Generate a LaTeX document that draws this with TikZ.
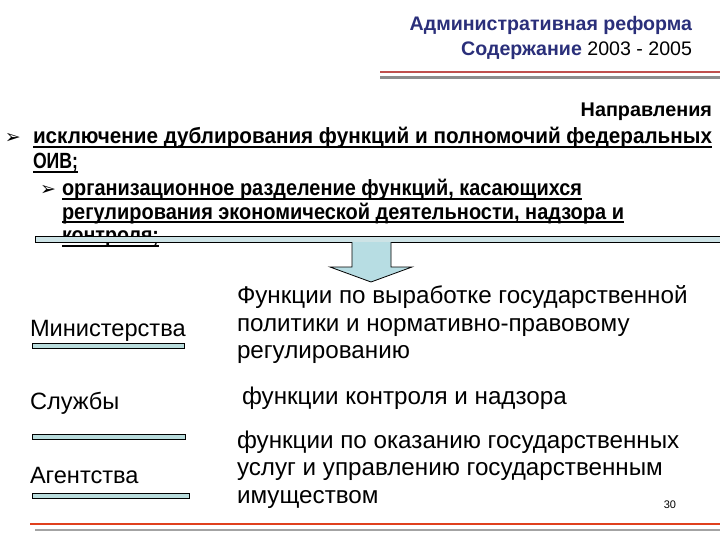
\documentclass[tikz,border=0pt]{standalone}
\usepackage{fontspec}
\setmainfont{Liberation Sans}
\newfontfamily\symfont{DejaVu Sans}
\usepackage{graphicx}
\definecolor{navy}{RGB}{42,47,122}
\definecolor{topred}{RGB}{192,80,77}
\definecolor{linegray}{RGB}{140,140,140}
\definecolor{barfill}{RGB}{205,227,230}
\definecolor{arrowfill}{RGB}{183,221,227}
\definecolor{smallbar}{RGB}{185,220,220}
\definecolor{botred}{RGB}{224,64,30}
\newcommand\fitw[2]{\resizebox{#1}{\height}{#2}}
\newcommand\bfz{\fontsize{22}{22}\selectfont\bfseries}
\newcommand\rgz{\fontsize{24.2}{25}\selectfont}
\newcommand\catz{\fontsize{23.6}{24}\selectfont}
\newcommand\ttz{\fontsize{19.6}{20}\selectfont}
\begin{document}
\begin{tikzpicture}[x=1pt,y=-1pt,
  txt/.style={inner sep=0pt,outer sep=0pt},
  ul/.style={line width=1.6pt},
  bullet/.style={txt,anchor=base west,font=\symfont\fontsize{19}{19}\selectfont},
  smallbarstyle/.style={fill=smallbar,draw=black,line width=0.8pt}]
\useasboundingbox (0,0) rectangle (720,540);
\fill[white] (0,0) rectangle (720,540);
% title
\node[txt,anchor=base east,text=navy] (t1) at (692,31) {\ttz\bfseries Административная реформа};
\node[txt,anchor=base east] (t2) at (692,56) {\ttz\textcolor{navy}{\bfseries Содержание} 2003 - 2005};
\draw[topred,line width=2.4pt] (380,72) -- (720,72);
\draw[linegray,line width=2.2pt] (380,77.5) -- (720,77.5);
% directions
\node[txt,anchor=base east] (dir) at (712,117) {\fontsize{19.8}{20}\selectfont\bfseries Направления};
\node[bullet] (b1) at (5,144) {➢};
\node[txt,anchor=base west] (l1) at (33,144) {\fitw{679pt}{\bfz исключение дублирования функций и полномочий федеральных}};
\node[txt,anchor=base west] (l2) at (33,169) {\fitw{45pt}{\bfz ОИВ;}};
\node[bullet] (b2) at (40,196) {➢};
\node[txt,anchor=base west] (l3) at (62,196) {\fitw{520pt}{\bfz организационное разделение функций, касающихся}};
\node[txt,anchor=base west] (l4) at (62,219) {\fitw{562pt}{\bfz регулирования экономической деятельности, надзора и}};
\node[txt,anchor=base west] (l5) at (62,243) {\fitw{97pt}{\bfz контроля;}};
\foreach \n in {l1,l2,l3,l4,l5}
  \draw[ul] ([yshift=-3pt]\n.base west) -- ([yshift=-3pt]\n.base east);
% bar and arrow
\draw[fill=barfill,draw=black,line width=1pt] (35,236) rectangle (722,242);
\draw[fill=arrowfill,draw=black,line width=0.8pt]
  (352,242) -- (352,267) -- (330,267) -- (371,282) -- (412,267) -- (391,267) -- (391,242);
% categories
\node[txt,anchor=base west] (min) at (30,336) {\catz Министерства};
\draw[smallbarstyle] (32,343) rectangle (184,348);
\node[txt,anchor=base west] (sl) at (30,409) {\catz Службы};
\draw[smallbarstyle] (32,434) rectangle (185,439);
\node[txt,anchor=base west] (ag) at (30,483) {\catz Агентства};
\draw[smallbarstyle] (32,493) rectangle (189,498);
% functions
\node[txt,anchor=base west] (f1) at (237,303) {\rgz Функции по выработке государственной};
\node[txt,anchor=base west] (f2) at (237,331) {\rgz политики и нормативно-правовому};
\node[txt,anchor=base west] (f3) at (237,358) {\rgz регулированию};
\node[txt,anchor=base west] (f4) at (242,404) {\rgz функции контроля и надзора};
\node[txt,anchor=base west] (f5) at (237,448) {\rgz функции по оказанию государственных};
\node[txt,anchor=base west] (f6) at (237,475) {\rgz услуг и управлению государственным};
\node[txt,anchor=base west] (f7) at (237,503) {\rgz имуществом};
\node[txt,anchor=base east] (pg) at (676,508) {\fontsize{11}{11}\selectfont 30};
% bottom lines
\draw[botred,line width=2.5pt] (30,524) -- (720,524);
\draw[linegray!80,line width=2pt] (35,530) -- (720,530);
\end{tikzpicture}
\end{document}
